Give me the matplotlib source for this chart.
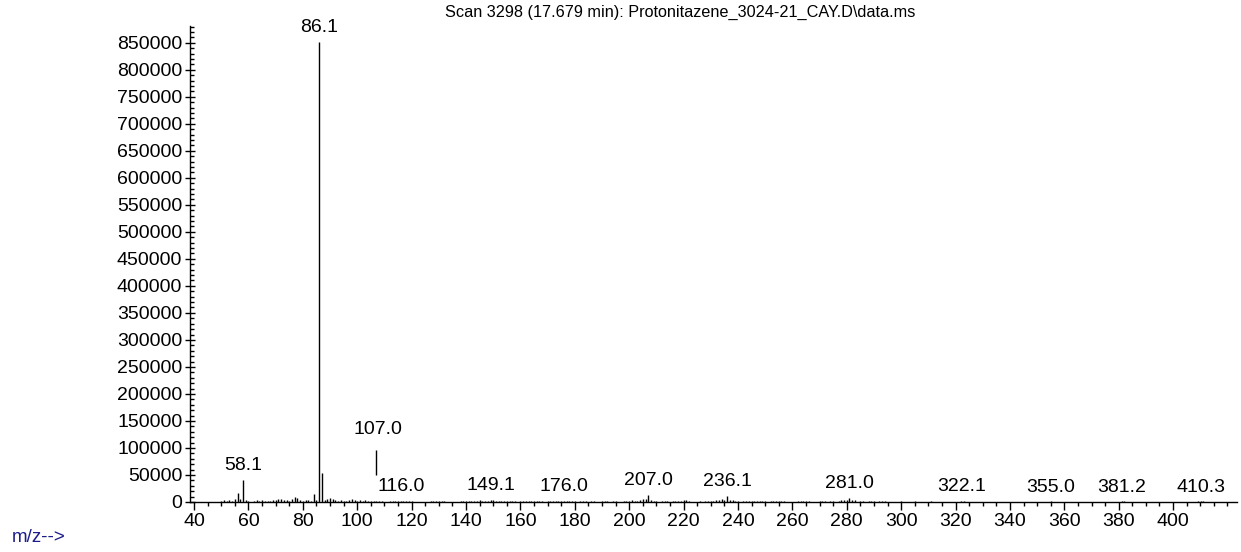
import matplotlib
matplotlib.use("Agg")
import matplotlib.pyplot as plt
from matplotlib.ticker import MultipleLocator

plt.rcParams["font.family"] = ["Liberation Sans", "DejaVu Sans"]

title = "Scan 3298 (17.679 min): Protonitazene_3024-21_CAY.D\\data.ms"

# ions (m/z, abundance), split by region
ions_low = [(50, 2000), (51, 3000), (52, 2500), (53, 3500), (54, 2500),
            (55, 5000), (56, 17000), (57, 6000), (58.1, 40700), (59, 4000),
            (60, 1500), (62, 1500), (63, 3000), (64, 2000), (65, 3500),
            (66, 2000), (67, 2500), (68, 1500), (69, 4000), (70, 3000),
            (71, 5000), (72, 6000), (73, 3500), (74, 3000), (75, 2500),
            (76, 5000), (77, 10000), (78, 7000), (79, 4000), (80, 2500),
            (81, 3000), (82, 3500), (83, 2500), (84, 15000), (85, 3500),
            (86.1, 852000), (87, 53000), (88, 3000), (89, 5000), (90, 8000),
            (91, 6000), (92, 3000), (93, 2500), (94, 3000), (95, 1500),
            (96, 2500), (97, 4000), (98, 5000), (99, 3000), (100, 2500)]
ions_mid = [(101, 3500), (102, 2000), (103, 3000), (104, 2500), (105, 2000),
            (106, 2500), (107, 2500), (108, 2000), (109, 1500), (112, 1500),
            (113, 2000), (114, 2500), (115, 1500), (116.0, 2000), (117, 2500),
            (118, 1500), (119, 2000), (120, 1500), (127, 2000), (128, 2500),
            (129, 1500), (130, 2000), (131, 2500), (132, 1500), (138, 1500),
            (139, 2000), (140, 2500), (141, 2000), (142, 1500), (143, 2500),
            (144, 2000), (145, 3000), (146, 2500), (147, 2000), (148, 2500),
            (149.1, 4500), (150, 3000), (151, 2500), (152, 2000), (153, 1500),
            (154, 2500), (155, 2000), (156, 1500), (157, 2000), (158, 1500),
            (160, 1500), (161, 2000), (162, 2500), (163, 1500), (164, 2000),
            (165, 2500), (166, 1500), (167, 2000), (168, 1500), (170, 2000),
            (171, 2500), (172, 1500), (173, 2000), (174, 2500), (175, 2000),
            (176.0, 2500), (177, 2000), (178, 1500), (179, 2000), (180, 1500),
            (182, 2000), (183, 1500), (184, 2000), (186, 1500), (187, 2000),
            (190, 1500), (191, 2000), (192, 2500), (194, 1500), (195, 2000),
            (198, 1500), (199, 2000), (200, 1500), (201, 3000), (202, 2000),
            (203, 2500), (204, 3000), (205, 5000), (206, 6000), (207.0, 13000),
            (208, 4000), (209, 2500), (210, 1500), (212, 2000), (213, 1500),
            (214, 2500), (216, 2000), (217, 1500), (218, 2500), (219, 2000),
            (220, 4000), (221, 3500), (222, 2000), (226, 1500), (228, 2000),
            (229, 1500), (230, 2500), (231, 2000), (232, 3000), (233, 4000),
            (234, 5000), (235, 4500), (236.1, 11700), (237, 4000), (238, 4000),
            (239, 2000), (240, 1500), (242, 2000), (243, 1500), (244, 2500),
            (245, 2000), (246, 1500), (247, 2000), (248, 1500), (249, 2000),
            (250, 1500)]
ions_high = [(252, 2500), (253, 2000), (254, 1500), (255, 1500), (256, 2000),
             (257, 2500), (262, 1500), (263, 2000), (264, 1500), (265, 2000),
             (266, 1500), (270, 2500), (271, 1500), (272, 2000), (274, 1500),
             (275, 2000), (277, 2500), (278, 3000), (279, 4000), (280, 3000),
             (281.0, 7400), (282, 3000), (283, 3000), (285, 2000), (286, 1500),
             (288, 1500), (289, 2500), (290, 2000), (292, 1500), (293, 2000),
             (294, 1500), (300, 1500), (305, 1500), (311, 1500), (322.1, 2500),
             (323, 2000), (355.0, 1500), (381.2, 1500), (382, 1000),
             (409, 1500), (410.3, 1500), (411, 1000)]

# ions carrying a label
label_mz = [58.1, 86.1, 116.0, 149.1, 176.0, 207.0, 236.1, 281.0, 322.1, 355.0,
            381.2, 410.3]

# 107.0 marker segment drawn above the baseline
marker_mz = 107.0
marker_lo = 50000
marker_hi = 96000

ions = ions_low + ions_mid + ions_high
mz = [p[0] for p in ions]
abund = [p[1] for p in ions]
lookup = dict(ions)

fig = plt.figure(figsize=(12.41, 5.52), dpi=100)
ax = fig.add_axes([190 / 1241, 50 / 552, 1047 / 1241, 476 / 552])

ax.vlines(mz, 0, abund, color="black", linewidth=1.0)
ax.vlines([marker_mz], marker_lo, marker_hi, color="black", linewidth=1.0)

for x in label_mz:
    ax.annotate(f"{x:.1f}", (x, lookup[x]), xytext=(0, 4),
                textcoords="offset points", ha="center", va="bottom",
                fontsize=14)
ax.annotate(f"{marker_mz:.1f}", (marker_mz, marker_hi), xytext=(1, 9),
            textcoords="offset points", ha="center", va="bottom", fontsize=14)

ax.set_xlim(38.5, 423.5)
ax.set_ylim(0, 881000)

for s in ["top", "right"]:
    ax.spines[s].set_visible(False)
for s in ["left", "bottom"]:
    ax.spines[s].set_linewidth(1.0)

ax.xaxis.set_minor_locator(MultipleLocator(5))
ax.set_xticks(range(40, 401, 20))
ax.set_xticklabels([str(v) for v in range(40, 401, 20)])
ax.yaxis.set_minor_locator(MultipleLocator(10000))
ax.set_yticks(range(0, 850001, 50000))
ax.set_yticklabels([str(v) for v in range(0, 850001, 50000)])

ax.tick_params(axis="x", which="major", direction="out", length=6, width=1,
               labelsize=14, pad=2)
ax.tick_params(axis="x", which="minor", direction="out", length=3, width=1)
ax.tick_params(axis="y", which="major", direction="inout", length=7, width=1,
               labelsize=14, pad=2)
ax.tick_params(axis="y", which="minor", direction="in", length=3, width=1)

fig.text(680 / 1241, 1 - 12 / 552, title, ha="center", va="center",
         fontsize=11.7)
fig.text(12 / 1241, 1 - 538 / 552, "m/z-->", ha="left", va="center",
         fontsize=13.5, color="#1c1c8c")

fig.savefig("out.png", dpi=100)
